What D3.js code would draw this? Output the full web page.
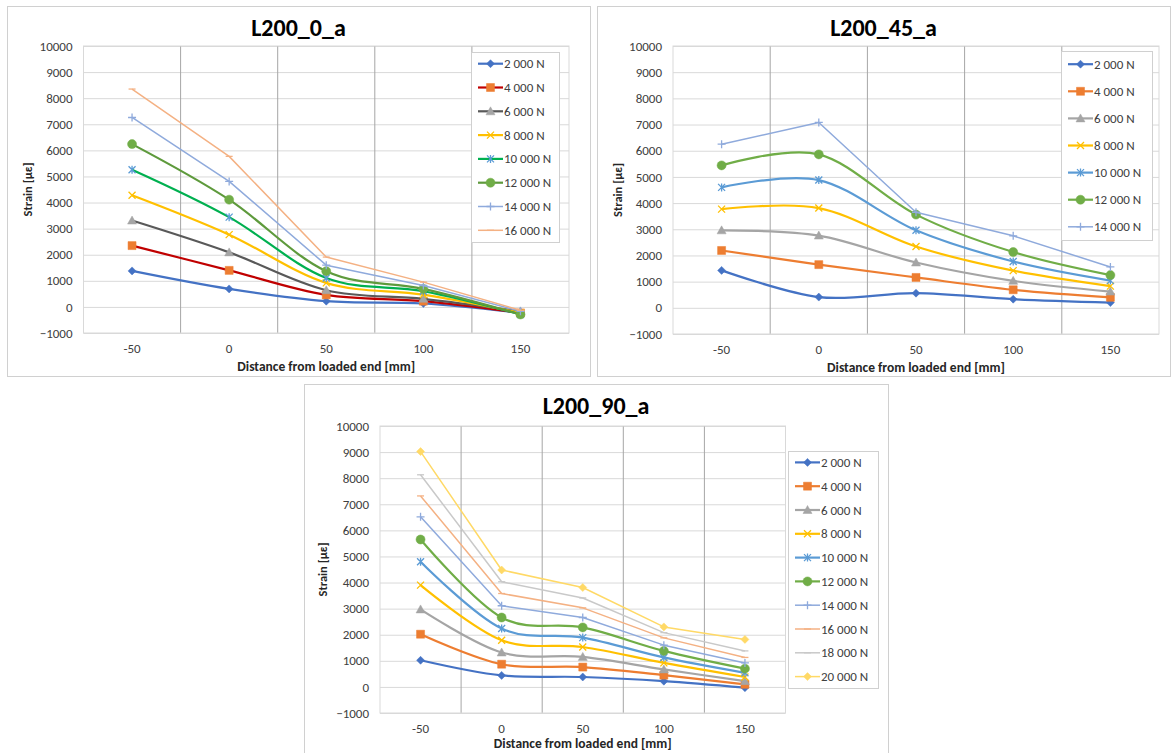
<!DOCTYPE html>
<html>
<head>
<meta charset="utf-8">
<script src="https://cdn.jsdelivr.net/npm/d3@7"></script>
<style>
  body { margin: 0; background: #fff; }
  text { font-family: Carlito, Calibri, Lato, sans-serif; fill: #404040; }
</style>
</head>
<body>
<svg id="chart" width="1175" height="753"></svg>
<script>
// distance from loaded end [mm]
const categories = [-50, 0, 50, 100, 150]
const yTicks = d3.range(-1000, 10001, 1000)
const loads = ['2 000 N', '4 000 N', '6 000 N', '8 000 N', '10 000 N',
  '12 000 N', '14 000 N', '16 000 N', '18 000 N', '20 000 N']

// strain [µε], one row per load
const strain0 = [
  [1380, 690, 220, 130, -230],
  [2350, 1400, 460, 220, -230],
  [3310, 2090, 640, 310, -170],
  [4280, 2770, 920, 470, -230],
  [5260, 3440, 1110, 600, -290],
  [6240, 4110, 1370, 690, -290],
  [7260, 4810, 1600, 820, -170],
  [8350, 5770, 1910, 950, -130]
]
const strain45 = [
  [1430, 410, 560, 330, 200],
  [2190, 1650, 1160, 690, 400],
  [2960, 2760, 1730, 1030, 620],
  [3770, 3810, 2340, 1420, 830],
  [4600, 4880, 2960, 1770, 1040],
  [5440, 5860, 3560, 2130, 1250],
  [6250, 7080, 3650, 2750, 1560]
]
const strain90 = [
  [1020, 440, 380, 220, -30],
  [2020, 870, 760, 450, 100],
  [2970, 1320, 1150, 670, 220],
  [3900, 1790, 1530, 920, 380],
  [4800, 2240, 1890, 1130, 540],
  [5650, 2660, 2280, 1380, 700],
  [6520, 3110, 2660, 1600, 920],
  [7320, 3580, 3030, 1880, 1130],
  [8130, 4030, 3410, 2080, 1380],
  [9020, 4480, 3810, 2300, 1820]
]

const markerShapes = ['diamond', 'square', 'triangle', 'x', 'asterisk', 'circle', 'plus', 'dash', 'dash', 'diamond']
const officeColors = ['#4472C4', '#ED7D31', '#A5A5A5', '#FFC000', '#5B9BD5', '#70AD47', '#8FAADC', '#F4B183', '#C9C9C9', '#FFD966']
// first chart uses a few custom line colours
const lineColors0 = ['#4472C4', '#C00000', '#595959', '#FFC000', '#00B050', '#5E9A3C', '#8FAADC', '#F4B183']

const panels = [
  { title: 'L200_0_a', data: strain0, lineColors: lineColors0,
    box: [7, 6, 590, 376], plot: [83.5, 46, 569, 333], xTitleDy: 38,
    legend: [471, 52, 559, 242], legendStep: 23.8, yTitleX: 28 },
  { title: 'L200_45_a', data: strain45, lineColors: officeColors,
    box: [597, 6, 1170, 376], plot: [673, 46, 1159, 334], xTitleDy: 38,
    legend: [1061, 51, 1152, 240], legendStep: 27.1, yTitleX: 618 },
  { title: 'L200_90_a', data: strain90, lineColors: officeColors,
    box: [304, 384, 888, 770], plot: [380, 426, 785.5, 713], xTitleDy: 35,
    legend: [788, 451, 878, 688], legendStep: 23.8, yTitleX: 323 }
]

const svg = d3.select('#chart')

function markerPath(shape) {
  switch (shape) {
    case 'diamond': return 'M0,-4L4,0L0,4L-4,0Z'
    case 'square': return 'M-4,-4H4V4H-4Z'
    case 'triangle': return 'M0,-4.5L4.5,3.5L-4.5,3.5Z'
    case 'x': return 'M-3.5,-3.5L3.5,3.5M-3.5,3.5L3.5,-3.5'
    case 'asterisk': return 'M-3.5,-3.5L3.5,3.5M-3.5,3.5L3.5,-3.5M0,-4V4'
    case 'circle': return d3.symbol(d3.symbolCircle, 64)()
    case 'plus': return 'M-4,0H4M0,-4V4'
    default: return 'M-3.5,0H3.5'
  }
}
const filled = (shape) => ['diamond', 'square', 'triangle', 'circle'].includes(shape)

function drawMarker(g, shape, color, x, y) {
  const p = g.append('path')
    .attr('d', markerPath(shape))
    .attr('transform', `translate(${x},${y})`)
  if (filled(shape)) p.attr('fill', color).attr('stroke', color).attr('stroke-width', 0.5)
  else p.attr('fill', 'none').attr('stroke', color).attr('stroke-width', 1.3)
}

function drawPanel(p) {
  const [bx0, by0, bx1, by1] = p.box
  const [px0, py0, px1, py1] = p.plot
  const g = svg.append('g')

  g.append('rect')
    .attr('x', bx0 + 0.5).attr('y', by0 + 0.5)
    .attr('width', bx1 - bx0).attr('height', by1 - by0)
    .attr('fill', '#fff').attr('stroke', '#d0d0d0')

  const x = d3.scaleBand().domain(categories).range([px0, px1])
  const y = d3.scaleLinear().domain([-1000, 10000]).range([py1, py0])

  // horizontal gridlines
  g.append('g')
    .attr('transform', `translate(${px0},0)`)
    .call(d3.axisLeft(y).tickValues(yTicks).tickSize(-(px1 - px0)).tickFormat(''))
    .call((a) => a.select('.domain').remove())
    .call((a) => a.selectAll('line').attr('stroke', '#d9d9d9'))

  // vertical gridlines between categories
  g.append('g')
    .selectAll('line')
    .data(categories.slice(1))
    .join('line')
    .attr('x1', (d) => x(d)).attr('x2', (d) => x(d))
    .attr('y1', py0).attr('y2', py1)
    .attr('stroke', '#a6a6a6')

  g.append('rect')
    .attr('x', px0).attr('y', py0)
    .attr('width', px1 - px0).attr('height', py1 - py0)
    .attr('fill', 'none').attr('stroke', '#d9d9d9')

  // y tick labels
  g.append('g')
    .attr('transform', `translate(${px0},0)`)
    .call(d3.axisLeft(y).tickValues(yTicks).tickSize(0).tickPadding(11).tickFormat(d3.format('d')))
    .call((a) => a.select('.domain').remove())
    .call((a) => a.selectAll('text').attr('font-size', 13).attr('fill', '#404040')
      .style('font-family', 'Carlito, Calibri, Lato, sans-serif'))

  // x tick labels
  g.append('g')
    .attr('transform', `translate(0,${py1})`)
    .call(d3.axisBottom(x).tickSize(0).tickPadding(11))
    .call((a) => a.select('.domain').remove())
    .call((a) => a.selectAll('text').attr('font-size', 13).attr('fill', '#404040')
      .style('font-family', 'Carlito, Calibri, Lato, sans-serif'))

  g.append('text')
    .attr('x', (bx0 + bx1) / 2).attr('y', by0 + 30)
    .attr('text-anchor', 'middle')
    .attr('font-size', 24).attr('font-weight', 'bold').style('fill', '#000')
    .text(p.title)

  g.append('text')
    .attr('x', (px0 + px1) / 2).attr('y', py1 + p.xTitleDy)
    .attr('text-anchor', 'middle')
    .attr('font-size', 13.5).attr('font-weight', 'bold').style('fill', '#262626')
    .text('Distance from loaded end [mm]')

  g.append('text')
    .attr('transform', `translate(${p.yTitleX},${(py0 + py1) / 2}) rotate(-90)`)
    .attr('text-anchor', 'middle').attr('dy', '0.35em')
    .attr('font-size', 12.5).attr('font-weight', 'bold').style('fill', '#262626')
    .text('Strain [με]')

  const cx = (d, i) => x(categories[i]) + x.bandwidth() / 2
  const smooth = d3.line().x(cx).y((d) => y(d)).curve(d3.curveCardinal.tension(0))
  const straight = d3.line().x(cx).y((d) => y(d))

  p.data.forEach((vals, s) => {
    const heavy = s < 6
    g.append('path')
      .attr('d', (heavy ? smooth : straight)(vals))
      .attr('fill', 'none')
      .attr('stroke', p.lineColors[s])
      .attr('stroke-width', heavy ? 2.2 : 1.5)
      .attr('stroke-linejoin', 'round')
    vals.forEach((v, i) => drawMarker(g, markerShapes[s], officeColors[s], cx(v, i), y(v)))
  })

  // legend
  const [lx0, ly0, lx1, ly1] = p.legend
  g.append('rect')
    .attr('x', lx0 + 0.5).attr('y', ly0 + 0.5)
    .attr('width', lx1 - lx0).attr('height', ly1 - ly0)
    .attr('fill', '#fff').attr('stroke', '#d0d0d0')
  const n = p.data.length
  const top = (ly0 + ly1) / 2 - ((n - 1) * p.legendStep) / 2
  p.data.forEach((vals, s) => {
    const ly = top + s * p.legendStep
    g.append('line')
      .attr('x1', lx0 + 7).attr('x2', lx0 + 32)
      .attr('y1', ly).attr('y2', ly)
      .attr('stroke', p.lineColors[s])
      .attr('stroke-width', s < 6 ? 2.2 : 1.5)
    drawMarker(g, markerShapes[s], officeColors[s], lx0 + 19.5, ly)
    g.append('text')
      .attr('x', lx0 + 33).attr('y', ly).attr('dy', '0.35em')
      .attr('font-size', 13).style('fill', '#404040')
      .text(loads[s])
  })
}

panels.forEach(drawPanel)
</script>
</body>
</html>
